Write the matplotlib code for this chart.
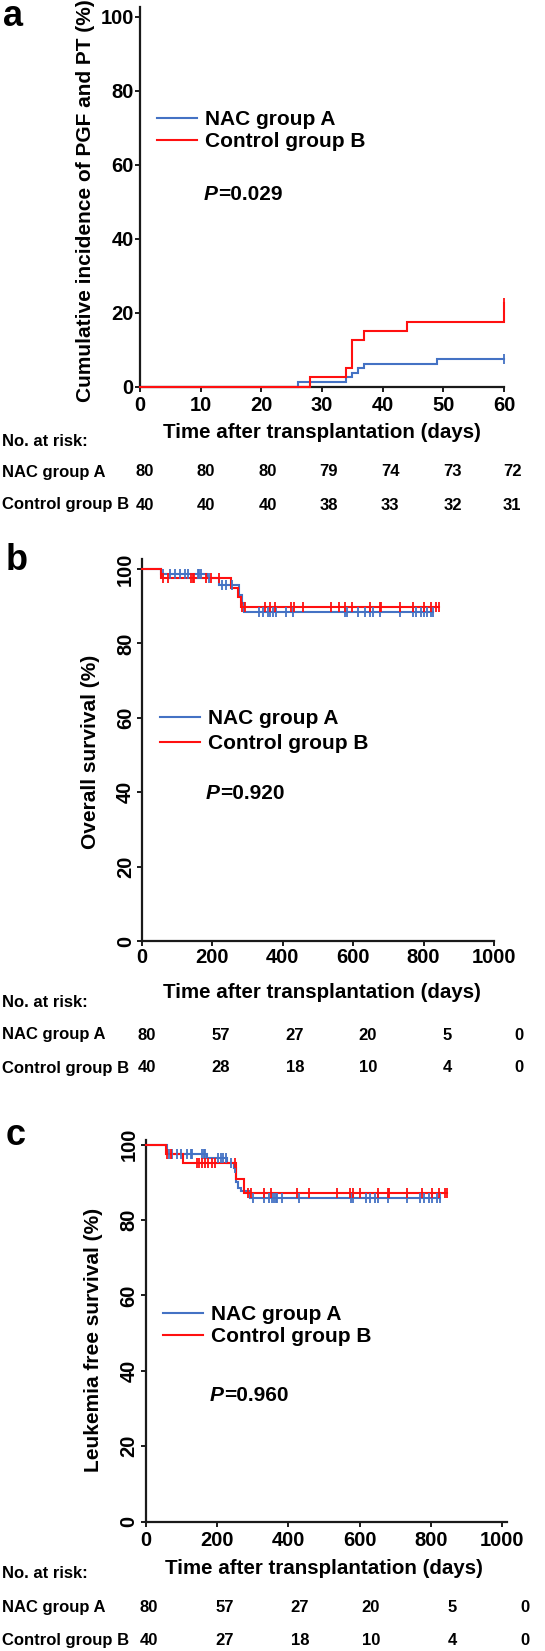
import numpy as np
import matplotlib
matplotlib.use('Agg')
import matplotlib.pyplot as plt
import matplotlib.transforms as mtransforms

W, H = 545, 1651
plt.rcParams['font.family'] = ['Liberation Sans', 'DejaVu Sans']
plt.rcParams['font.weight'] = 'bold'
plt.rcParams['axes.labelweight'] = 'bold'

BLUE = '#4472C4'
RED = '#FF1010'
AXC = '#1a1a1a'

group_labels = ['NAC group A', 'Control group B']

# ---------------- Panel a: cumulative incidence of PGF and PT ----------------
a_nac_t = [0, 26, 34, 35, 36, 37, 49]
a_nac_y = [0, 1.25, 2.5, 3.75, 5.0, 6.25, 7.5]
a_nac_cens = [60]
a_ctl_t = [0, 28, 34, 35, 37, 44, 60]
a_ctl_y = [0, 2.5, 5.0, 12.5, 15.0, 17.5, 22.5]
a_ctl_cens = [60]
a_xticks = [0, 10, 20, 30, 40, 50, 60]
a_risk_nac = [80, 80, 80, 79, 74, 73, 72]
a_risk_ctl = [40, 40, 40, 38, 33, 32, 31]
a_p = '=0.029'

# ---------------- Panel b: overall survival ----------------
b_nac_t = [0, 55, 185, 219, 275, 284, 290]
b_nac_y = [100, 98.75, 97.5, 95.7, 93.0, 90.8, 88.4]
b_nac_cens = [60, 79, 93, 107, 121, 130, 158, 163, 168, 191, 228, 238, 256,
              331, 345, 359, 363, 373, 382, 410, 429, 578, 582, 615, 634, 648,
              657, 676, 732, 769, 778, 792, 801, 811, 820, 826]
b_ctl_t = [0, 55, 252, 272, 280]
b_ctl_y = [100, 97.5, 95.0, 92.4, 89.9]
b_ctl_cens = [60, 75, 140, 144, 149, 182, 196, 219, 284, 294, 349, 363, 377,
              424, 433, 457, 536, 559, 578, 596, 648, 676, 680, 732, 769, 801,
              820, 834, 845]
b_xticks = [0, 200, 400, 600, 800, 1000]
b_risk_nac = [80, 57, 27, 20, 5, 0]
b_risk_ctl = [40, 28, 18, 10, 4, 0]
b_p = '=0.920'

# ---------------- Panel c: leukemia free survival ----------------
c_nac_t = [0, 58, 172, 228, 246, 253, 258, 266, 292]
c_nac_y = [100, 97.5, 96.3, 95.0, 93.8, 90.0, 88.6, 87.6, 85.8]
c_nac_cens = [65, 74, 88, 97, 115, 125, 129, 157, 162, 166, 203, 212, 217, 226,
              240, 249, 300, 332, 346, 355, 360, 365, 369, 383, 429, 577, 582,
              619, 628, 642, 651, 679, 734, 771, 780, 794, 803, 817, 826]
c_ctl_t = [0, 55, 104, 252, 274]
c_ctl_y = [100, 97.5, 95.0, 90.9, 87.2]
c_ctl_cens = [60, 69, 143, 148, 157, 166, 175, 185, 194, 249, 286, 295, 332,
              351, 425, 457, 536, 572, 582, 600, 651, 679, 683, 734, 776, 803,
              822, 840, 845]
c_xticks = [0, 200, 400, 600, 800, 1000]
c_risk_nac = [80, 57, 27, 20, 5, 0]
c_risk_ctl = [40, 27, 18, 10, 4, 0]
c_p = '=0.960'

yticks = [0, 20, 40, 60, 80, 100]

fig = plt.figure(figsize=(W / 100, H / 100), dpi=100)


def rect(left, right, top, bottom):
    return [left / W, 1 - bottom / H, (right - left) / W, (bottom - top) / H]


def fy(py):
    return 1 - py / H


def draw_curve(ax, t, y, cens, color, label):
    end = max(cens) if cens else t[-1]
    tt = list(t) + [end]
    yy = list(y) + [y[-1]]
    ax.step(tt, yy, where='post', color=color, lw=1.5, clip_on=False,
            label=label, zorder=3, solid_joinstyle='miter')
    t_arr = np.asarray(t)
    y_arr = np.asarray(y)
    idx = np.searchsorted(t_arr, cens, side='right') - 1
    ax.plot(cens, y_arr[idx], linestyle='none', marker='|', ms=7, mew=1.3,
            color=color, clip_on=False, zorder=4)


def style_axes(ax, xlim, ylim, xticks, rot_y, xpad, ypad):
    ax.set_xlim(*xlim)
    ax.set_ylim(*ylim)
    ax.set_xticks(xticks)
    ax.set_yticks(yticks)
    for s in ['top', 'right']:
        ax.spines[s].set_visible(False)
    for s in ['left', 'bottom']:
        ax.spines[s].set_linewidth(1.6)
        ax.spines[s].set_color(AXC)
    ax.tick_params(axis='both', direction='out', length=3.5, width=1.4,
                   color=AXC, labelsize=14.5, labelcolor='black')
    ax.tick_params(axis='x', pad=xpad)
    ax.tick_params(axis='y', pad=ypad)
    if rot_y:
        for lab in ax.get_yticklabels():
            lab.set_rotation(90)
            lab.set_va('center')


def label_coords(px_x, px_y, box):
    left, right, top, bottom = box
    return (px_x - left) / (right - left), (bottom - px_y) / (bottom - top)


def panel(box, xlim, ylim, xticks, nac, ctl, ylabel, ylab_px, xlab_px,
          rot_y, xpad, ypad, leg_px, leg_sp, p_px, pval, table, letter):
    ax = fig.add_axes(rect(*box))
    draw_curve(ax, *nac, BLUE, group_labels[0])
    draw_curve(ax, *ctl, RED, group_labels[1])
    style_axes(ax, xlim, ylim, xticks, rot_y, xpad, ypad)

    ax.set_ylabel(ylabel, fontsize=15)
    ax.yaxis.set_label_coords(*label_coords(ylab_px[0], ylab_px[1], box))
    ax.yaxis.label.set_va('center')
    ax.set_xlabel('Time after transplantation (days)', fontsize=14.8)
    ax.xaxis.set_label_coords(*label_coords(xlab_px[0], xlab_px[1], box))
    ax.xaxis.label.set_va('center')

    ax.legend(loc='upper left', bbox_to_anchor=(leg_px[0] / W, fy(leg_px[1])),
              bbox_transform=fig.transFigure, frameon=False, fontsize=15,
              handlelength=1.9, handletextpad=0.4, labelspacing=leg_sp,
              borderpad=0, borderaxespad=0)

    tp = fig.text(p_px[0] / W, fy(p_px[1]), 'P', fontsize=15,
                  style='italic', weight='bold', va='center', ha='left')
    ax.annotate(pval, xy=(1, 0), xycoords=tp, fontsize=15, weight='bold',
                va='bottom', ha='left', annotation_clip=False)

    (risk_nac, risk_ctl, y_head, y_nac, y_ctl, cols) = table
    fig.text(2 / W, fy(y_head), 'No. at risk:', fontsize=12, va='center')
    fig.text(2 / W, fy(y_nac), group_labels[0], fontsize=12, va='center')
    fig.text(2 / W, fy(y_ctl), group_labels[1], fontsize=12, va='center')
    for cx, n1, n2 in zip(cols, risk_nac, risk_ctl):
        fig.text(cx / W, fy(y_nac), str(n1), fontsize=12,
                 ha='center', va='center')
        fig.text(cx / W, fy(y_ctl), str(n2), fontsize=12,
                 ha='center', va='center')

    fig.text(letter[0] / W, fy(letter[1]), letter[2], fontsize=26,
             weight='bold', va='baseline', ha='left')
    return ax


# panel a
box_a = (140.0, 504.0, 6.7, 386.7)
panel(box_a, (0, 60), (0, 102.7), a_xticks,
      (a_nac_t, a_nac_y, a_nac_cens), (a_ctl_t, a_ctl_y, a_ctl_cens),
      'Cumulative incidence of PGF and PT (%)', (86, 201), (322, 432),
      False, 3.5, 1.0, (157, 110), 0.15, (204, 194), a_p,
      (a_risk_nac, a_risk_ctl, 441, 472, 505,
       [145, 206, 268, 329, 390, 453, 512]), (3, 26, 'a'))

# panel b
box_b = (142.0, 494.0, 559.0, 941.0)
panel(box_b, (0, 1000), (0, 102.7), b_xticks,
      (b_nac_t, b_nac_y, b_nac_cens), (b_ctl_t, b_ctl_y, b_ctl_cens),
      'Overall survival (%)', (90, 752), (322, 992),
      True, 1.5, 1.5, (160, 709), 0.3, (206, 793), b_p,
      (b_risk_nac, b_risk_ctl, 1002, 1035, 1068,
       [147, 221, 295, 368, 447, 519]), (6, 570, 'b'))

# panel c
box_c = (146.0, 507.0, 1140.0, 1521.7)
panel(box_c, (0, 1014), (0, 101.2), c_xticks,
      (c_nac_t, c_nac_y, c_nac_cens), (c_ctl_t, c_ctl_y, c_ctl_cens),
      'Leukemia free survival (%)', (94, 1340), (324, 1568),
      True, 3.5, 2.0, (163, 1305), 0.15, (210, 1395), c_p,
      (c_risk_nac, c_risk_ctl, 1573, 1607, 1640,
       [149, 225, 300, 371, 452, 525]), (6, 1145, 'c'))

fig.savefig('out.png', dpi=100)
